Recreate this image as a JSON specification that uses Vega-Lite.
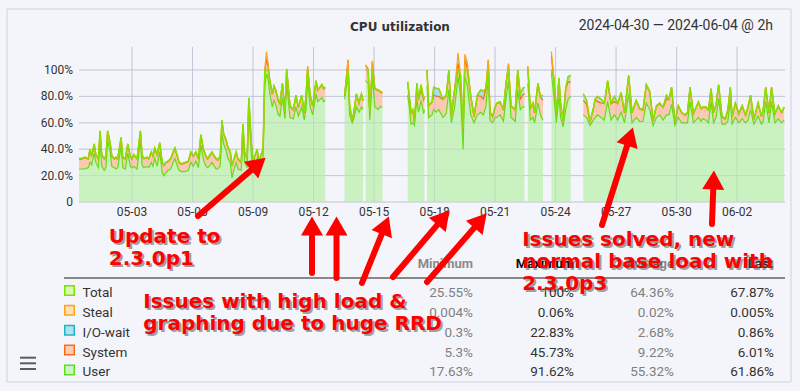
{
"$schema":"https://vega.github.io/schema/vega-lite/v6.json",
"width":800,"height":391,
"autosize":{"type":"fit","contains":"padding"},
"padding":0,
"background":"#f4f5fa",
"config":{"view":{"stroke":null},"font":"Roboto"},
"datasets":{
"cpu":[
{"t":"2024-04-30T09:00","u":25,"s":7.5,"w":0.5,"tot":33,"g":1},
{"t":"2024-04-30T12:00","u":25,"s":7.5,"w":0.5,"tot":33,"g":1},
{"t":"2024-04-30T16:00","u":25,"s":8.5,"w":0.5,"tot":34,"g":1},
{"t":"2024-04-30T20:00","u":26,"s":6.5,"w":0.5,"tot":33,"g":1},
{"t":"2024-04-30T22:00","u":30,"s":9.5,"w":0.5,"tot":40,"g":1},
{"t":"2024-05-01T00:00","u":28,"s":6.5,"w":0.5,"tot":35,"g":1},
{"t":"2024-05-01T03:00","u":37,"s":6.5,"w":0.5,"tot":44,"g":1},
{"t":"2024-05-01T05:00","u":30,"s":5.5,"w":0.5,"tot":36,"g":1},
{"t":"2024-05-01T08:00","u":26,"s":6.5,"w":0.5,"tot":33,"g":1},
{"t":"2024-05-01T10:00","u":46,"s":7.5,"w":0.5,"tot":54,"g":1},
{"t":"2024-05-01T12:00","u":27,"s":8.5,"w":0.5,"tot":36,"g":1},
{"t":"2024-05-01T15:00","u":24,"s":8.5,"w":0.5,"tot":33,"g":1},
{"t":"2024-05-01T17:00","u":26,"s":8.5,"w":0.5,"tot":35,"g":1},
{"t":"2024-05-01T19:00","u":47,"s":6.5,"w":0.5,"tot":54,"g":1},
{"t":"2024-05-01T22:00","u":38,"s":6.5,"w":0.5,"tot":45,"g":1},
{"t":"2024-05-02T00:00","u":27,"s":7.5,"w":0.5,"tot":35,"g":1},
{"t":"2024-05-02T03:00","u":26,"s":6.5,"w":0.5,"tot":33,"g":1},
{"t":"2024-05-02T05:00","u":25,"s":8.5,"w":0.5,"tot":34,"g":1},
{"t":"2024-05-02T07:00","u":26,"s":6.5,"w":0.5,"tot":33,"g":1},
{"t":"2024-05-02T11:00","u":42,"s":6.5,"w":0.5,"tot":49,"g":1},
{"t":"2024-05-02T13:00","u":26,"s":7.5,"w":0.5,"tot":34,"g":1},
{"t":"2024-05-02T16:00","u":25,"s":7.5,"w":0.5,"tot":33,"g":1},
{"t":"2024-05-02T19:00","u":37,"s":6.5,"w":0.5,"tot":44,"g":1},
{"t":"2024-05-02T22:00","u":27,"s":7.5,"w":0.5,"tot":35,"g":1},
{"t":"2024-05-03T00:00","u":26,"s":6.5,"w":0.5,"tot":33,"g":1},
{"t":"2024-05-03T02:00","u":27,"s":8.5,"w":0.5,"tot":36,"g":1},
{"t":"2024-05-03T06:00","u":25,"s":7.5,"w":0.5,"tot":33,"g":1},
{"t":"2024-05-03T10:00","u":46,"s":7.5,"w":0.5,"tot":54,"g":1},
{"t":"2024-05-03T12:00","u":28,"s":7.5,"w":0.5,"tot":36,"g":1},
{"t":"2024-05-03T14:00","u":26,"s":6.5,"w":0.5,"tot":33,"g":1},
{"t":"2024-05-03T18:00","u":27,"s":6.5,"w":0.5,"tot":34,"g":1},
{"t":"2024-05-03T20:00","u":26,"s":6.5,"w":0.5,"tot":33,"g":1},
{"t":"2024-05-03T23:00","u":30,"s":7.5,"w":0.5,"tot":38,"g":1},
{"t":"2024-05-04T01:00","u":27,"s":7.5,"w":0.5,"tot":35,"g":1},
{"t":"2024-05-04T03:00","u":33,"s":7.5,"w":0.5,"tot":41,"g":1},
{"t":"2024-05-04T06:00","u":27,"s":8.5,"w":0.5,"tot":36,"g":1},
{"t":"2024-05-04T09:00","u":38,"s":6.5,"w":0.5,"tot":45,"g":1},
{"t":"2024-05-04T12:00","u":22,"s":7.5,"w":0.5,"tot":30,"g":1},
{"t":"2024-05-04T14:00","u":20,"s":7.5,"w":0.5,"tot":28,"g":1},
{"t":"2024-05-04T16:00","u":22,"s":7.5,"w":0.5,"tot":30,"g":1},
{"t":"2024-05-04T19:00","u":24,"s":6.5,"w":0.5,"tot":31,"g":1},
{"t":"2024-05-04T22:00","u":25,"s":7.5,"w":0.5,"tot":33,"g":1},
{"t":"2024-05-05T01:00","u":30,"s":7.5,"w":0.5,"tot":38,"g":1},
{"t":"2024-05-05T03:00","u":33,"s":7.5,"w":0.5,"tot":41,"g":1},
{"t":"2024-05-05T06:00","u":27,"s":7.5,"w":0.5,"tot":35,"g":1},
{"t":"2024-05-05T08:00","u":24,"s":5.5,"w":0.5,"tot":30,"g":1},
{"t":"2024-05-05T11:00","u":23,"s":5.5,"w":0.5,"tot":29,"g":1},
{"t":"2024-05-05T15:00","u":23,"s":6.5,"w":0.5,"tot":30,"g":1},
{"t":"2024-05-05T19:00","u":24,"s":6.5,"w":0.5,"tot":31,"g":1},
{"t":"2024-05-05T22:00","u":30,"s":7.5,"w":0.5,"tot":38,"g":1},
{"t":"2024-05-06T01:00","u":27,"s":7.5,"w":0.5,"tot":35,"g":1},
{"t":"2024-05-06T04:00","u":31,"s":6.5,"w":0.5,"tot":38,"g":1},
{"t":"2024-05-06T07:00","u":26,"s":6.5,"w":0.5,"tot":33,"g":1},
{"t":"2024-05-06T10:00","u":43,"s":7.5,"w":0.5,"tot":51,"g":1},
{"t":"2024-05-06T13:00","u":32,"s":7.5,"w":0.5,"tot":40,"g":1},
{"t":"2024-05-06T16:00","u":27,"s":7.5,"w":0.5,"tot":35,"g":1},
{"t":"2024-05-06T18:00","u":26,"s":6.5,"w":0.5,"tot":33,"g":1},
{"t":"2024-05-06T21:00","u":28,"s":7.5,"w":0.5,"tot":36,"g":1},
{"t":"2024-05-06T23:00","u":30,"s":7.5,"w":0.5,"tot":38,"g":1},
{"t":"2024-05-07T02:00","u":27,"s":7.5,"w":0.5,"tot":35,"g":1},
{"t":"2024-05-07T04:00","u":25,"s":7.5,"w":0.5,"tot":33,"g":1},
{"t":"2024-05-07T06:00","u":25,"s":6.5,"w":0.5,"tot":32,"g":1},
{"t":"2024-05-07T09:00","u":27,"s":7.5,"w":0.5,"tot":35,"g":1},
{"t":"2024-05-07T11:00","u":52,"s":9.5,"w":0.5,"tot":62,"g":1},
{"t":"2024-05-07T13:00","u":44,"s":7.5,"w":0.5,"tot":52,"g":1},
{"t":"2024-05-07T16:00","u":39,"s":7.5,"w":0.5,"tot":47,"g":1},
{"t":"2024-05-07T18:00","u":33,"s":8.5,"w":0.5,"tot":42,"g":1},
{"t":"2024-05-07T21:00","u":30,"s":7.5,"w":0.5,"tot":38,"g":1},
{"t":"2024-05-07T23:00","u":18,"s":9.5,"w":0.5,"tot":28,"g":1},
{"t":"2024-05-08T01:00","u":24,"s":7.5,"w":0.5,"tot":32,"g":1},
{"t":"2024-05-08T04:00","u":30,"s":7.5,"w":0.5,"tot":38,"g":1},
{"t":"2024-05-08T06:00","u":25,"s":7.5,"w":0.5,"tot":33,"g":1},
{"t":"2024-05-08T10:00","u":24,"s":5.5,"w":0.5,"tot":30,"g":1},
{"t":"2024-05-08T12:00","u":50,"s":8.5,"w":0.5,"tot":59,"g":1},
{"t":"2024-05-08T14:00","u":30,"s":7.5,"w":0.5,"tot":38,"g":1},
{"t":"2024-05-08T17:00","u":26,"s":6.5,"w":0.5,"tot":33,"g":1},
{"t":"2024-05-08T19:00","u":68,"s":10.5,"w":0.5,"tot":79,"g":1},
{"t":"2024-05-08T22:00","u":36,"s":8.5,"w":0.5,"tot":45,"g":1},
{"t":"2024-05-09T00:00","u":24,"s":5.5,"w":0.5,"tot":30,"g":1},
{"t":"2024-05-09T02:00","u":28,"s":6.5,"w":0.5,"tot":35,"g":1},
{"t":"2024-05-09T05:00","u":33,"s":6.5,"w":0.5,"tot":40,"g":1},
{"t":"2024-05-09T07:00","u":25,"s":4.5,"w":0.5,"tot":30,"g":1},
{"t":"2024-05-09T09:00","u":29,"s":5.5,"w":0.5,"tot":35,"g":1},
{"t":"2024-05-09T12:00","u":34,"s":5.5,"w":0.5,"tot":40,"g":1},
{"t":"2024-05-09T14:00","u":88,"s":11.5,"w":0.5,"tot":100,"g":1},
{"t":"2024-05-09T16:00","u":97,"s":11,"w":6,"tot":100,"g":1},
{"t":"2024-05-09T18:00","u":93,"s":10,"w":2,"tot":100,"g":1},
{"t":"2024-05-09T20:00","u":82,"s":9.5,"w":0.5,"tot":92,"g":1},
{"t":"2024-05-09T23:00","u":72,"s":9.5,"w":0.5,"tot":82,"g":1},
{"t":"2024-05-10T01:00","u":77,"s":10.5,"w":0.5,"tot":88,"g":1},
{"t":"2024-05-10T03:00","u":74,"s":10.5,"w":0.5,"tot":85,"g":1},
{"t":"2024-05-10T06:00","u":66,"s":10.5,"w":0.5,"tot":77,"g":1},
{"t":"2024-05-10T08:00","u":65,"s":9.5,"w":0.5,"tot":75,"g":1},
{"t":"2024-05-10T11:00","u":79,"s":10.5,"w":0.5,"tot":90,"g":1},
{"t":"2024-05-10T14:00","u":63,"s":4.5,"w":0.5,"tot":68,"g":1},
{"t":"2024-05-10T16:00","u":90,"s":10.5,"w":0.5,"tot":100,"g":1},
{"t":"2024-05-10T20:00","u":64,"s":8.5,"w":0.5,"tot":73,"g":1},
{"t":"2024-05-11T00:00","u":63,"s":6.5,"w":0.5,"tot":70,"g":1},
{"t":"2024-05-11T03:00","u":72,"s":8.5,"w":0.5,"tot":81,"g":1},
{"t":"2024-05-11T06:00","u":65,"s":6.5,"w":0.5,"tot":72,"g":1},
{"t":"2024-05-11T10:00","u":72,"s":8.5,"w":0.5,"tot":81,"g":1},
{"t":"2024-05-11T13:00","u":62,"s":5.5,"w":0.5,"tot":68,"g":1},
{"t":"2024-05-11T15:00","u":70,"s":9.5,"w":0.5,"tot":80,"g":1},
{"t":"2024-05-11T17:00","u":92,"s":10.5,"w":0.5,"tot":100,"g":1},
{"t":"2024-05-11T20:00","u":72,"s":8.5,"w":0.5,"tot":81,"g":1},
{"t":"2024-05-11T23:00","u":66,"s":6.5,"w":0.5,"tot":73,"g":1},
{"t":"2024-05-12T03:00","u":82,"s":9.5,"w":0.5,"tot":92,"g":1},
{"t":"2024-05-12T05:00","u":76,"s":8.5,"w":0.5,"tot":85,"g":1},
{"t":"2024-05-12T10:00","u":79,"s":9.5,"w":0.5,"tot":89,"g":1},
{"t":"2024-05-12T12:00","u":76,"s":9.5,"w":0.5,"tot":86,"g":1},
{"t":"2024-05-12T14:00","u":77,"s":9.5,"w":0.5,"tot":87,"g":1},
{"t":"2024-05-13T13:00","u":78,"s":2.5,"w":0.5,"tot":81,"g":2},
{"t":"2024-05-13T17:00","u":95,"s":12.5,"w":0.5,"tot":100,"g":2},
{"t":"2024-05-13T19:00","u":66,"s":6.5,"w":0.5,"tot":73,"g":2},
{"t":"2024-05-13T22:00","u":60,"s":1.5,"w":0.5,"tot":62,"g":2},
{"t":"2024-05-14T00:00","u":63,"s":4.5,"w":0.5,"tot":68,"g":2},
{"t":"2024-05-14T03:00","u":72,"s":9.5,"w":0.5,"tot":82,"g":2},
{"t":"2024-05-14T06:00","u":68,"s":6.5,"w":0.5,"tot":75,"g":2},
{"t":"2024-05-14T09:00","u":72,"s":9.5,"w":0.5,"tot":82,"g":2},
{"t":"2024-05-14T11:00","u":70,"s":6.5,"w":0.5,"tot":77,"g":2},
{"t":"2024-05-14T14:00","u":92,"s":11.5,"w":0.5,"tot":100,"g":3},
{"t":"2024-05-14T17:00","u":90,"s":10.5,"w":0.5,"tot":100,"g":3},
{"t":"2024-05-14T19:00","u":62,"s":5.5,"w":0.5,"tot":68,"g":3},
{"t":"2024-05-14T22:00","u":95,"s":11.5,"w":0.5,"tot":100,"g":3},
{"t":"2024-05-15T01:00","u":72,"s":13.5,"w":0.5,"tot":86,"g":3},
{"t":"2024-05-15T05:00","u":70,"s":14.5,"w":0.5,"tot":85,"g":3},
{"t":"2024-05-15T07:00","u":72,"s":11.5,"w":0.5,"tot":84,"g":3},
{"t":"2024-05-15T10:00","u":72,"s":10.5,"w":0.5,"tot":83,"g":3},
{"t":"2024-05-16T16:00","u":81,"s":9.5,"w":0.5,"tot":91,"g":4},
{"t":"2024-05-16T18:00","u":72,"s":7.5,"w":0.5,"tot":80,"g":4},
{"t":"2024-05-16T20:00","u":59,"s":8.5,"w":0.5,"tot":68,"g":4},
{"t":"2024-05-16T22:00","u":60,"s":9.5,"w":0.5,"tot":70,"g":4},
{"t":"2024-05-17T00:00","u":58,"s":2.5,"w":0.5,"tot":61,"g":4},
{"t":"2024-05-17T03:00","u":78,"s":8,"w":4,"tot":90,"g":4},
{"t":"2024-05-17T05:00","u":68,"s":9.5,"w":0.5,"tot":78,"g":4},
{"t":"2024-05-17T08:00","u":77,"s":8,"w":4,"tot":89,"g":4},
{"t":"2024-05-17T11:00","u":67,"s":10.5,"w":0.5,"tot":78,"g":4},
{"t":"2024-05-17T12:00","u":70,"s":9.5,"w":0.5,"tot":80,"g":4},
{"t":"2024-05-17T15:00","u":88,"s":11.5,"w":0.5,"tot":100,"g":5},
{"t":"2024-05-17T17:00","u":64,"s":8.5,"w":0.5,"tot":73,"g":5},
{"t":"2024-05-17T21:00","u":66,"s":9.5,"w":0.5,"tot":76,"g":5},
{"t":"2024-05-17T23:00","u":70,"s":11,"w":6,"tot":87,"g":5},
{"t":"2024-05-18T02:00","u":68,"s":12,"w":6,"tot":86,"g":5},
{"t":"2024-05-18T05:00","u":70,"s":10,"w":6,"tot":86,"g":5},
{"t":"2024-05-18T10:00","u":64,"s":13.5,"w":0.5,"tot":78,"g":5},
{"t":"2024-05-18T14:00","u":67,"s":13.5,"w":0.5,"tot":81,"g":5},
{"t":"2024-05-18T17:00","u":85,"s":14.5,"w":0.5,"tot":100,"g":5},
{"t":"2024-05-18T20:00","u":60,"s":5.5,"w":0.5,"tot":66,"g":5},
{"t":"2024-05-19T00:00","u":72,"s":13.5,"w":0.5,"tot":86,"g":5},
{"t":"2024-05-19T04:00","u":95,"s":10,"w":8,"tot":100,"g":5},
{"t":"2024-05-19T07:00","u":80,"s":10,"w":6,"tot":96,"g":5},
{"t":"2024-05-19T10:00","u":40,"s":15.5,"w":0.5,"tot":56,"g":5},
{"t":"2024-05-19T12:00","u":95,"s":13,"w":4,"tot":100,"g":5},
{"t":"2024-05-19T15:00","u":88,"s":13,"w":5,"tot":100,"g":5},
{"t":"2024-05-19T19:00","u":66,"s":14.5,"w":0.5,"tot":81,"g":5},
{"t":"2024-05-19T23:00","u":60,"s":4.5,"w":0.5,"tot":65,"g":5},
{"t":"2024-05-20T03:00","u":66,"s":14.5,"w":0.5,"tot":81,"g":5},
{"t":"2024-05-20T07:00","u":68,"s":12,"w":5,"tot":85,"g":5},
{"t":"2024-05-20T10:00","u":66,"s":12,"w":6,"tot":84,"g":5},
{"t":"2024-05-20T13:00","u":72,"s":13.5,"w":0.5,"tot":86,"g":5},
{"t":"2024-05-20T16:00","u":94,"s":13.5,"w":0.5,"tot":100,"g":5},
{"t":"2024-05-20T18:00","u":62,"s":5.5,"w":0.5,"tot":68,"g":5},
{"t":"2024-05-20T21:00","u":60,"s":4.5,"w":0.5,"tot":65,"g":5},
{"t":"2024-05-21T00:00","u":64,"s":7.5,"w":0.5,"tot":72,"g":5},
{"t":"2024-05-21T02:00","u":64,"s":10.5,"w":0.5,"tot":75,"g":5},
{"t":"2024-05-21T06:00","u":66,"s":9.5,"w":0.5,"tot":76,"g":5},
{"t":"2024-05-21T10:00","u":61,"s":8.5,"w":0.5,"tot":70,"g":5},
{"t":"2024-05-21T13:00","u":78,"s":11.5,"w":0.5,"tot":90,"g":5},
{"t":"2024-05-21T16:00","u":92,"s":12.5,"w":0.5,"tot":100,"g":5},
{"t":"2024-05-21T19:00","u":64,"s":8.5,"w":0.5,"tot":73,"g":5},
{"t":"2024-05-22T00:00","u":61,"s":8.5,"w":0.5,"tot":70,"g":5},
{"t":"2024-05-22T03:00","u":85,"s":14.5,"w":0.5,"tot":100,"g":5},
{"t":"2024-05-22T06:00","u":70,"s":8,"w":4,"tot":82,"g":5},
{"t":"2024-05-22T09:00","u":72,"s":9,"w":5,"tot":86,"g":5},
{"t":"2024-05-22T11:00","u":72,"s":10,"w":5,"tot":87,"g":5},
{"t":"2024-05-22T15:00","u":90,"s":12.5,"w":0.5,"tot":100,"g":6},
{"t":"2024-05-22T18:00","u":62,"s":8.5,"w":0.5,"tot":71,"g":6},
{"t":"2024-05-22T21:00","u":64,"s":10.5,"w":0.5,"tot":75,"g":6},
{"t":"2024-05-22T23:00","u":60,"s":7.5,"w":0.5,"tot":68,"g":6},
{"t":"2024-05-23T03:00","u":75,"s":14.5,"w":0.5,"tot":90,"g":6},
{"t":"2024-05-23T06:00","u":66,"s":13.5,"w":0.5,"tot":80,"g":6},
{"t":"2024-05-23T09:00","u":62,"s":15,"w":4,"tot":81,"g":6},
{"t":"2024-05-23T19:00","u":98,"s":13,"w":3,"tot":100,"g":7},
{"t":"2024-05-23T22:00","u":80,"s":13,"w":1,"tot":94,"g":7},
{"t":"2024-05-24T01:00","u":60,"s":6.5,"w":0.5,"tot":67,"g":7},
{"t":"2024-05-24T04:00","u":80,"s":13.5,"w":0.5,"tot":94,"g":7},
{"t":"2024-05-24T06:00","u":64,"s":10.5,"w":0.5,"tot":75,"g":7},
{"t":"2024-05-24T09:00","u":57,"s":4.5,"w":0.5,"tot":62,"g":7},
{"t":"2024-05-24T12:00","u":70,"s":15.5,"w":0.5,"tot":86,"g":7},
{"t":"2024-05-24T15:00","u":78,"s":13,"w":4,"tot":95,"g":7},
{"t":"2024-05-24T18:00","u":80,"s":11,"w":5,"tot":96,"g":7},
{"t":"2024-05-25T09:00","u":66,"s":11,"w":5,"tot":82,"g":8},
{"t":"2024-05-25T13:00","u":64,"s":10,"w":3,"tot":77,"g":8},
{"t":"2024-05-25T17:00","u":58,"s":2.5,"w":0.5,"tot":61,"g":8},
{"t":"2024-05-25T21:00","u":62,"s":8.5,"w":0.5,"tot":71,"g":8},
{"t":"2024-05-25T23:00","u":64,"s":13.5,"w":0.5,"tot":78,"g":8},
{"t":"2024-05-26T02:00","u":66,"s":10,"w":4,"tot":80,"g":8},
{"t":"2024-05-26T06:00","u":64,"s":11,"w":3,"tot":78,"g":8},
{"t":"2024-05-26T10:00","u":62,"s":12.5,"w":0.5,"tot":75,"g":8},
{"t":"2024-05-26T14:00","u":76,"s":15.5,"w":0.5,"tot":92,"g":8},
{"t":"2024-05-26T18:00","u":62,"s":12.5,"w":0.5,"tot":75,"g":8},
{"t":"2024-05-26T22:00","u":66,"s":10,"w":4,"tot":80,"g":8},
{"t":"2024-05-27T02:00","u":62,"s":12.5,"w":0.5,"tot":75,"g":8},
{"t":"2024-05-27T06:00","u":68,"s":14.5,"w":0.5,"tot":83,"g":8},
{"t":"2024-05-27T10:00","u":60,"s":7.5,"w":0.5,"tot":68,"g":8},
{"t":"2024-05-27T15:00","u":82,"s":13.5,"w":0.5,"tot":96,"g":8},
{"t":"2024-05-27T19:00","u":60,"s":7.5,"w":0.5,"tot":68,"g":8},
{"t":"2024-05-28T00:00","u":64,"s":12.5,"w":0.5,"tot":77,"g":8},
{"t":"2024-05-28T04:00","u":61,"s":9.5,"w":0.5,"tot":71,"g":8},
{"t":"2024-05-28T08:00","u":61,"s":8.5,"w":0.5,"tot":70,"g":8},
{"t":"2024-05-28T12:00","u":75,"s":13.5,"w":0.5,"tot":89,"g":8},
{"t":"2024-05-28T16:00","u":70,"s":13.5,"w":0.5,"tot":84,"g":8},
{"t":"2024-05-28T20:00","u":58,"s":3.5,"w":0.5,"tot":62,"g":8},
{"t":"2024-05-29T00:00","u":64,"s":8.5,"w":0.5,"tot":73,"g":8},
{"t":"2024-05-29T04:00","u":66,"s":8.5,"w":0.5,"tot":75,"g":8},
{"t":"2024-05-29T08:00","u":62,"s":9.5,"w":0.5,"tot":72,"g":8},
{"t":"2024-05-29T12:00","u":66,"s":12,"w":3,"tot":81,"g":8},
{"t":"2024-05-29T15:00","u":66,"s":11.5,"w":0.5,"tot":78,"g":8},
{"t":"2024-05-29T18:00","u":74,"s":12.5,"w":0.5,"tot":87,"g":8},
{"t":"2024-05-29T22:00","u":58,"s":2.5,"w":0.5,"tot":61,"g":8},
{"t":"2024-05-30T02:00","u":64,"s":8.5,"w":0.5,"tot":73,"g":8},
{"t":"2024-05-30T06:00","u":60,"s":7.5,"w":0.5,"tot":68,"g":8},
{"t":"2024-05-30T10:00","u":60,"s":5.5,"w":0.5,"tot":66,"g":8},
{"t":"2024-05-30T13:00","u":60,"s":7.5,"w":0.5,"tot":68,"g":8},
{"t":"2024-05-30T16:00","u":76,"s":10.5,"w":0.5,"tot":87,"g":8},
{"t":"2024-05-30T20:00","u":60,"s":6.5,"w":0.5,"tot":67,"g":8},
{"t":"2024-05-31T02:00","u":64,"s":11.5,"w":0.5,"tot":76,"g":8},
{"t":"2024-05-31T05:00","u":61,"s":9.5,"w":0.5,"tot":71,"g":8},
{"t":"2024-05-31T07:00","u":63,"s":8.5,"w":0.5,"tot":72,"g":8},
{"t":"2024-05-31T11:00","u":62,"s":9.5,"w":0.5,"tot":72,"g":8},
{"t":"2024-05-31T14:00","u":60,"s":9.5,"w":0.5,"tot":70,"g":8},
{"t":"2024-05-31T17:00","u":76,"s":9.5,"w":0.5,"tot":86,"g":8},
{"t":"2024-05-31T20:00","u":60,"s":7.5,"w":0.5,"tot":68,"g":8},
{"t":"2024-05-31T23:00","u":64,"s":9.5,"w":0.5,"tot":74,"g":8},
{"t":"2024-06-01T02:00","u":78,"s":10.5,"w":0.5,"tot":89,"g":8},
{"t":"2024-06-01T06:00","u":59,"s":5.5,"w":0.5,"tot":65,"g":8},
{"t":"2024-06-01T10:00","u":59,"s":3.5,"w":0.5,"tot":63,"g":8},
{"t":"2024-06-01T13:00","u":61,"s":8.5,"w":0.5,"tot":70,"g":8},
{"t":"2024-06-01T16:00","u":77,"s":9.5,"w":0.5,"tot":87,"g":8},
{"t":"2024-06-01T18:00","u":59,"s":5.5,"w":0.5,"tot":65,"g":8},
{"t":"2024-06-01T22:00","u":64,"s":10.5,"w":0.5,"tot":75,"g":8},
{"t":"2024-06-02T02:00","u":60,"s":6.5,"w":0.5,"tot":67,"g":8},
{"t":"2024-06-02T06:00","u":63,"s":9.5,"w":0.5,"tot":73,"g":8},
{"t":"2024-06-02T10:00","u":60,"s":5.5,"w":0.5,"tot":66,"g":8},
{"t":"2024-06-02T13:00","u":62,"s":9.5,"w":0.5,"tot":72,"g":8},
{"t":"2024-06-02T16:00","u":70,"s":10.5,"w":0.5,"tot":81,"g":8},
{"t":"2024-06-02T20:00","u":59,"s":3.5,"w":0.5,"tot":63,"g":8},
{"t":"2024-06-03T01:00","u":65,"s":9.5,"w":0.5,"tot":75,"g":8},
{"t":"2024-06-03T05:00","u":59,"s":5.5,"w":0.5,"tot":65,"g":8},
{"t":"2024-06-03T07:00","u":61,"s":8.5,"w":0.5,"tot":70,"g":8},
{"t":"2024-06-03T10:00","u":76,"s":10.5,"w":0.5,"tot":87,"g":8},
{"t":"2024-06-03T14:00","u":60,"s":7.5,"w":0.5,"tot":68,"g":8},
{"t":"2024-06-03T17:00","u":76,"s":10.5,"w":0.5,"tot":87,"g":8},
{"t":"2024-06-03T21:00","u":60,"s":6.5,"w":0.5,"tot":67,"g":8},
{"t":"2024-06-04T01:00","u":63,"s":9.5,"w":0.5,"tot":73,"g":8},
{"t":"2024-06-04T05:00","u":60,"s":7.5,"w":0.5,"tot":68,"g":8},
{"t":"2024-06-04T08:00","u":62,"s":9.5,"w":0.5,"tot":72,"g":8}
],
"table":[
{"name":"Total","i":0,"min":"25.55%","max":"100%","avg":"64.36%","last":"67.87%"},
{"name":"Steal","i":1,"min":"0.004%","max":"0.06%","avg":"0.02%","last":"0.005%"},
{"name":"I/O-wait","i":2,"min":"0.3%","max":"22.83%","avg":"2.68%","last":"0.86%"},
{"name":"System","i":3,"min":"5.3%","max":"45.73%","avg":"9.22%","last":"6.01%"},
{"name":"User","i":4,"min":"17.63%","max":"91.62%","avg":"55.32%","last":"61.86%"}
],
"xticks":[
{"d":"2024-05-03T00:00"},{"d":"2024-05-06T00:00"},{"d":"2024-05-09T00:00"},{"d":"2024-05-12T00:00"},
{"d":"2024-05-15T00:00"},{"d":"2024-05-18T00:00"},{"d":"2024-05-21T00:00"},{"d":"2024-05-24T00:00"},
{"d":"2024-05-27T00:00"},{"d":"2024-05-30T00:00"},{"d":"2024-06-02T00:00"}
],
"yticks":[
{"v":0,"l":"0"},{"v":20,"l":"20.0%"},{"v":40,"l":"40.0%"},{"v":60,"l":"60.0%"},{"v":80,"l":"80.0%"},{"v":100,"l":"100%"}
],
"notes":[
{"x":"2024-05-01T20:20","y":-31.06,"txt":"Update to\n2.3.0p1"},
{"x":"2024-05-03T13:20","y":-80.3,"txt":"Issues with high load &\ngraphing due to huge RRD"},
{"x":"2024-05-22T08:15","y":-33.33,"txt":"Issues solved, new\nnormal base load with\n2.3.0p3"}
],
"arrows":[
{"x1":"2024-05-06T06:32","y1":-10.61,"x2":"2024-05-09T06:24","y2":28.79,"a":49.3},
{"x1":"2024-05-11T22:11","y1":-53.79,"x2":"2024-05-11T22:11","y2":-18.18,"a":0},
{"x1":"2024-05-13T03:20","y1":-57.58,"x2":"2024-05-13T03:20","y2":-18.18,"a":0},
{"x1":"2024-05-14T09:41","y1":-61.36,"x2":"2024-05-15T13:24","y2":-17.65,"a":21.9},
{"x1":"2024-05-15T22:34","y1":-56.82,"x2":"2024-05-18T10:39","y2":-11.82,"a":40.4},
{"x1":"2024-05-17T15:01","y1":-60.61,"x2":"2024-05-20T06:41","y2":-14.09,"a":40.6},
{"x1":"2024-05-26T07:15","y1":-17.42,"x2":"2024-05-27T16:34","y2":49.62,"a":17.6},
{"x1":"2024-05-31T18:08","y1":-16.67,"x2":"2024-05-31T20:02","y2":16.67,"a":2.1}
],
"menu":[{"y":-117.95},{"y":-122.2},{"y":-126.5}]
},
"layer":[
{
"data":{"name":"table"},
"layer":[
{"data":{"values":[{}]},"mark":{"type":"rule","color":"#1a1a1a","strokeWidth":1.2},
 "encoding":{"x":{"datum":{"year":2024,"month":4,"date":29,"hours":15,"minutes":5},"type":"temporal","scale":{"domain":[{"year":2024,"month":4,"date":26,"hours":10,"minutes":56},{"year":2024,"month":6,"date":5,"hours":2,"minutes":51}],"nice":false},"axis":null},
  "x2":{"datum":{"year":2024,"month":6,"date":4,"hours":9}},
  "y":{"datum":-0.955,"type":"quantitative","scale":{"domain":[-14.943,4.73],"reverse":true,"nice":false,"zero":false},"axis":null}}},
{"data":{"values":[{"h":"Minimum"}]},"mark":{"type":"text","align":"right","baseline":"alphabetic","fontSize":13,"fontWeight":"bold","color":"#8a8a8a"},
 "encoding":{"x":{"datum":{"year":2024,"month":5,"date":19,"hours":21,"minutes":46},"type":"temporal","scale":{"domain":[{"year":2024,"month":4,"date":26,"hours":10,"minutes":56},{"year":2024,"month":6,"date":5,"hours":2,"minutes":51}],"nice":false},"axis":null},
  "y":{"datum":-1.459,"type":"quantitative","scale":{"domain":[-14.943,4.73],"reverse":true,"nice":false,"zero":false},"axis":null},"text":{"field":"h"}}},
{"data":{"values":[{"h":"Maximum"}]},"mark":{"type":"text","align":"right","baseline":"alphabetic","fontSize":13,"fontWeight":"bold","color":"#111111"},
 "encoding":{"x":{"datum":{"year":2024,"month":5,"date":24,"hours":21,"minutes":56},"type":"temporal","scale":{"domain":[{"year":2024,"month":4,"date":26,"hours":10,"minutes":56},{"year":2024,"month":6,"date":5,"hours":2,"minutes":51}],"nice":false},"axis":null},
  "y":{"datum":-1.459,"type":"quantitative","scale":{"domain":[-14.943,4.73],"reverse":true,"nice":false,"zero":false},"axis":null},"text":{"field":"h"}}},
{"data":{"values":[{"h":"Average"}]},"mark":{"type":"text","align":"right","baseline":"alphabetic","fontSize":13,"fontWeight":"bold","color":"#8a8a8a"},
 "encoding":{"x":{"datum":{"year":2024,"month":5,"date":29,"hours":20,"minutes":55},"type":"temporal","scale":{"domain":[{"year":2024,"month":4,"date":26,"hours":10,"minutes":56},{"year":2024,"month":6,"date":5,"hours":2,"minutes":51}],"nice":false},"axis":null},
  "y":{"datum":-1.459,"type":"quantitative","scale":{"domain":[-14.943,4.73],"reverse":true,"nice":false,"zero":false},"axis":null},"text":{"field":"h"}}},
{"data":{"values":[{"h":"Last"}]},"mark":{"type":"text","align":"right","baseline":"alphabetic","fontSize":13,"fontWeight":"bold","color":"#333333"},
 "encoding":{"x":{"datum":{"year":2024,"month":6,"date":3,"hours":18,"minutes":43},"type":"temporal","scale":{"domain":[{"year":2024,"month":4,"date":26,"hours":10,"minutes":56},{"year":2024,"month":6,"date":5,"hours":2,"minutes":51}],"nice":false},"axis":null},
  "y":{"datum":-1.459,"type":"quantitative","scale":{"domain":[-14.943,4.73],"reverse":true,"nice":false,"zero":false},"axis":null},"text":{"field":"h"}}},
{"mark":{"type":"square","size":90,"strokeWidth":1.5,"opacity":1,"yOffset":-6.5},
 "encoding":{"x":{"datum":{"year":2024,"month":4,"date":29,"hours":21,"minutes":38},"type":"temporal","scale":{"domain":[{"year":2024,"month":4,"date":26,"hours":10,"minutes":56},{"year":2024,"month":6,"date":5,"hours":2,"minutes":51}],"nice":false},"axis":null},
  "y":{"field":"i","type":"quantitative","scale":{"domain":[-14.943,4.73],"reverse":true,"nice":false,"zero":false},"axis":null},
  "fill":{"field":"name","type":"nominal","scale":{"domain":["Total","Steal","I/O-wait","System","User"],"range":["#d6fab4","#fde0b8","#b2e1e9","#fbcdb6","#ccf5c4"]},"legend":null},
  "stroke":{"field":"name","type":"nominal","scale":{"domain":["Total","Steal","I/O-wait","System","User"],"range":["#80e000","#ffa31a","#1fb3ca","#ff6a1a","#5ee01e"]},"legend":null}}},
{"mark":{"type":"text","align":"left","baseline":"alphabetic","fontSize":13.5,"color":"#333333"},
 "encoding":{"x":{"datum":{"year":2024,"month":4,"date":30,"hours":13,"minutes":6},"type":"temporal","scale":{"domain":[{"year":2024,"month":4,"date":26,"hours":10,"minutes":56},{"year":2024,"month":6,"date":5,"hours":2,"minutes":51}],"nice":false},"axis":null},
  "y":{"field":"i","type":"quantitative","scale":{"domain":[-14.943,4.73],"reverse":true,"nice":false,"zero":false},"axis":null},"text":{"field":"name"}}},
{"mark":{"type":"text","align":"right","baseline":"alphabetic","fontSize":13.5,"color":"#7f7f7f"},
 "encoding":{"x":{"datum":{"year":2024,"month":5,"date":19,"hours":21,"minutes":46},"type":"temporal","scale":{"domain":[{"year":2024,"month":4,"date":26,"hours":10,"minutes":56},{"year":2024,"month":6,"date":5,"hours":2,"minutes":51}],"nice":false},"axis":null},
  "y":{"field":"i","type":"quantitative","scale":{"domain":[-14.943,4.73],"reverse":true,"nice":false,"zero":false},"axis":null},"text":{"field":"min"}}},
{"mark":{"type":"text","align":"right","baseline":"alphabetic","fontSize":13.5,"color":"#333333"},
 "encoding":{"x":{"datum":{"year":2024,"month":5,"date":24,"hours":21,"minutes":56},"type":"temporal","scale":{"domain":[{"year":2024,"month":4,"date":26,"hours":10,"minutes":56},{"year":2024,"month":6,"date":5,"hours":2,"minutes":51}],"nice":false},"axis":null},
  "y":{"field":"i","type":"quantitative","scale":{"domain":[-14.943,4.73],"reverse":true,"nice":false,"zero":false},"axis":null},"text":{"field":"max"}}},
{"mark":{"type":"text","align":"right","baseline":"alphabetic","fontSize":13.5,"color":"#7f7f7f"},
 "encoding":{"x":{"datum":{"year":2024,"month":5,"date":29,"hours":20,"minutes":55},"type":"temporal","scale":{"domain":[{"year":2024,"month":4,"date":26,"hours":10,"minutes":56},{"year":2024,"month":6,"date":5,"hours":2,"minutes":51}],"nice":false},"axis":null},
  "y":{"field":"i","type":"quantitative","scale":{"domain":[-14.943,4.73],"reverse":true,"nice":false,"zero":false},"axis":null},"text":{"field":"avg"}}},
{"mark":{"type":"text","align":"right","baseline":"alphabetic","fontSize":13.5,"color":"#333333"},
 "encoding":{"x":{"datum":{"year":2024,"month":6,"date":3,"hours":19,"minutes":55},"type":"temporal","scale":{"domain":[{"year":2024,"month":4,"date":26,"hours":10,"minutes":56},{"year":2024,"month":6,"date":5,"hours":2,"minutes":51}],"nice":false},"axis":null},
  "y":{"field":"i","type":"quantitative","scale":{"domain":[-14.943,4.73],"reverse":true,"nice":false,"zero":false},"axis":null},"text":{"field":"last"}}}
]
},
{
"layer":[
{"data":{"values":[{}]},"mark":{"type":"rect","fill":"transparent","stroke":"#cfd1dd","strokeWidth":1},
 "encoding":{"x":{"datum":{"year":2024,"month":4,"date":26,"hours":19,"minutes":16},"type":"temporal","scale":{"domain":[{"year":2024,"month":4,"date":26,"hours":10,"minutes":56},{"year":2024,"month":6,"date":5,"hours":2,"minutes":51}],"nice":false},"axis":null},
  "x2":{"datum":{"year":2024,"month":6,"date":4,"hours":16,"minutes":8}},
  "y":{"datum":146.21,"type":"quantitative","scale":{"domain":[-143.18,153.03],"nice":false,"zero":false},"axis":null},
  "y2":{"datum":-136.36}}},
{"data":{"name":"yticks"},"mark":{"type":"rule","color":"#d3d5e1","strokeWidth":1},
 "encoding":{"x":{"datum":{"year":2024,"month":4,"date":30,"hours":8,"minutes":56},"type":"temporal","scale":{"domain":[{"year":2024,"month":4,"date":26,"hours":10,"minutes":56},{"year":2024,"month":6,"date":5,"hours":2,"minutes":51}],"nice":false},"axis":null},
  "x2":{"datum":{"year":2024,"month":6,"date":4,"hours":9}},
  "y":{"field":"v","type":"quantitative","scale":{"domain":[-143.18,153.03],"nice":false,"zero":false},"axis":null}}},
{"data":{"name":"xticks"},"mark":{"type":"rule","color":"#d3d5e1","strokeWidth":1},
 "encoding":{"x":{"field":"d","type":"temporal","scale":{"domain":[{"year":2024,"month":4,"date":26,"hours":10,"minutes":56},{"year":2024,"month":6,"date":5,"hours":2,"minutes":51}],"nice":false},"axis":null},
  "y":{"datum":0,"type":"quantitative","scale":{"domain":[-143.18,153.03],"nice":false,"zero":false},"axis":null},
  "y2":{"datum":117.5}}},
{"data":{"name":"xticks"},"mark":{"type":"text","fontSize":12,"color":"#333333","align":"center","baseline":"alphabetic"},
 "encoding":{"x":{"field":"d","type":"temporal","scale":{"domain":[{"year":2024,"month":4,"date":26,"hours":10,"minutes":56},{"year":2024,"month":6,"date":5,"hours":2,"minutes":51}],"nice":false},"axis":null},
  "y":{"datum":-10.61,"type":"quantitative","scale":{"domain":[-143.18,153.03],"nice":false,"zero":false},"axis":null},
  "text":{"field":"d","type":"temporal","format":"%m-%d"}}},
{"data":{"name":"yticks"},"mark":{"type":"text","fontSize":12,"color":"#333333","align":"right","baseline":"middle"},
 "encoding":{"x":{"datum":{"year":2024,"month":4,"date":30,"hours":1,"minutes":48},"type":"temporal","scale":{"domain":[{"year":2024,"month":4,"date":26,"hours":10,"minutes":56},{"year":2024,"month":6,"date":5,"hours":2,"minutes":51}],"nice":false},"axis":null},
  "y":{"field":"v","type":"quantitative","scale":{"domain":[-143.18,153.03],"nice":false,"zero":false},"axis":null},
  "text":{"field":"l"}}},
{"data":{"name":"cpu"},
 "transform":[
  {"fold":["u","s","w"],"as":["k","v"]},
  {"calculate":"indexof(['u','s','w'], datum.k)","as":"o"},
  {"stack":"v","groupby":["t"],"sort":[{"field":"o","order":"ascending"}],"as":["v0","v1"]}
 ],
 "layer":[
  {"mark":{"type":"area"},
   "encoding":{"x":{"field":"t","type":"temporal","scale":{"domain":[{"year":2024,"month":4,"date":26,"hours":10,"minutes":56},{"year":2024,"month":6,"date":5,"hours":2,"minutes":51}],"nice":false},"axis":null},
    "y":{"field":"v1","type":"quantitative","stack":null,"scale":{"domain":[-143.18,153.03],"nice":false,"zero":false},"axis":null},
    "y2":{"field":"v0"},
    "fill":{"field":"k","type":"nominal","scale":{"domain":["u","s","w"],"range":["#c9f2c0","#f9c9b1","#acdfe7"]},"legend":null},
    "detail":{"field":"g","type":"nominal"}}},
  {"mark":{"type":"line","strokeWidth":1.2},
   "encoding":{"x":{"field":"t","type":"temporal","scale":{"domain":[{"year":2024,"month":4,"date":26,"hours":10,"minutes":56},{"year":2024,"month":6,"date":5,"hours":2,"minutes":51}],"nice":false},"axis":null},
    "y":{"field":"v1","type":"quantitative","stack":null,"scale":{"domain":[-143.18,153.03],"nice":false,"zero":false},"axis":null},
    "stroke":{"field":"k","type":"nominal","scale":{"domain":["u","s","w"],"range":["#66de14","#ff6a00","#ffa31a"]},"legend":null},
    "detail":{"field":"g","type":"nominal"}}}
 ]},
{"data":{"name":"cpu"},"mark":{"type":"line","color":"#86e200","strokeWidth":1.5},
 "encoding":{"x":{"field":"t","type":"temporal","scale":{"domain":[{"year":2024,"month":4,"date":26,"hours":10,"minutes":56},{"year":2024,"month":6,"date":5,"hours":2,"minutes":51}],"nice":false},"axis":null},
  "y":{"field":"tot","type":"quantitative","scale":{"domain":[-143.18,153.03],"nice":false,"zero":false},"axis":null},
  "detail":{"field":"g","type":"nominal"}}},
{"data":{"name":"yticks"},"mark":{"type":"rule","color":"#9da3b8","strokeWidth":1,"opacity":0.25},
 "encoding":{"x":{"datum":{"year":2024,"month":4,"date":30,"hours":8,"minutes":56},"type":"temporal","scale":{"domain":[{"year":2024,"month":4,"date":26,"hours":10,"minutes":56},{"year":2024,"month":6,"date":5,"hours":2,"minutes":51}],"nice":false},"axis":null},
  "x2":{"datum":{"year":2024,"month":6,"date":4,"hours":9}},
  "y":{"field":"v","type":"quantitative","scale":{"domain":[-143.18,153.03],"nice":false,"zero":false},"axis":null}}},
{"data":{"name":"xticks"},"mark":{"type":"rule","color":"#9da3b8","strokeWidth":1,"opacity":0.25},
 "encoding":{"x":{"field":"d","type":"temporal","scale":{"domain":[{"year":2024,"month":4,"date":26,"hours":10,"minutes":56},{"year":2024,"month":6,"date":5,"hours":2,"minutes":51}],"nice":false},"axis":null},
  "y":{"datum":0,"type":"quantitative","scale":{"domain":[-143.18,153.03],"nice":false,"zero":false},"axis":null},
  "y2":{"datum":117.5}}},
{"data":{"values":[{"h":"CPU utilization"}]},"mark":{"type":"text","align":"center","baseline":"alphabetic","font":"DejaVu Sans","fontSize":12,"fontWeight":"bold","color":"#333333"},
 "encoding":{"x":{"datum":{"year":2024,"month":5,"date":16,"hours":6,"minutes":53},"type":"temporal","scale":{"domain":[{"year":2024,"month":4,"date":26,"hours":10,"minutes":56},{"year":2024,"month":6,"date":5,"hours":2,"minutes":51}],"nice":false},"axis":null},
  "y":{"datum":129.77,"type":"quantitative","scale":{"domain":[-143.18,153.03],"nice":false,"zero":false},"axis":null},"text":{"field":"h"}}},
{"data":{"values":[{"h":"2024-04-30 — 2024-06-04 @ 2h"}]},"mark":{"type":"text","align":"right","baseline":"alphabetic","fontSize":14,"color":"#333333"},
 "encoding":{"x":{"datum":{"year":2024,"month":6,"date":3,"hours":18,"minutes":43},"type":"temporal","scale":{"domain":[{"year":2024,"month":4,"date":26,"hours":10,"minutes":56},{"year":2024,"month":6,"date":5,"hours":2,"minutes":51}],"nice":false},"axis":null},
  "y":{"datum":130.3,"type":"quantitative","scale":{"domain":[-143.18,153.03],"nice":false,"zero":false},"axis":null},"text":{"field":"h"}}},
{"data":{"name":"menu"},"mark":{"type":"rule","color":"#555e66","strokeWidth":2},
 "encoding":{"x":{"datum":{"year":2024,"month":4,"date":27,"hours":10,"minutes":44},"type":"temporal","scale":{"domain":[{"year":2024,"month":4,"date":26,"hours":10,"minutes":56},{"year":2024,"month":6,"date":5,"hours":2,"minutes":51}],"nice":false},"axis":null},
  "x2":{"datum":{"year":2024,"month":4,"date":28,"hours":5,"minutes":46}},
  "y":{"field":"y","type":"quantitative","scale":{"domain":[-143.18,153.03],"nice":false,"zero":false},"axis":null}}},
{"data":{"name":"notes"},"mark":{"type":"text","align":"left","baseline":"alphabetic","font":"DejaVu Sans","fontWeight":"bold","fontSize":20,"lineHeight":22,"lineBreak":"\n","color":"#000000","opacity":0.35,"dx":2,"dy":2},
 "encoding":{"x":{"field":"x","type":"temporal","scale":{"domain":[{"year":2024,"month":4,"date":26,"hours":10,"minutes":56},{"year":2024,"month":6,"date":5,"hours":2,"minutes":51}],"nice":false},"axis":null},
  "y":{"field":"y","type":"quantitative","scale":{"domain":[-143.18,153.03],"nice":false,"zero":false},"axis":null},"text":{"field":"txt"}}},
{"data":{"name":"notes"},"mark":{"type":"text","align":"left","baseline":"alphabetic","font":"DejaVu Sans","fontWeight":"bold","fontSize":20,"lineHeight":22,"lineBreak":"\n","color":"#ff0000"},
 "encoding":{"x":{"field":"x","type":"temporal","scale":{"domain":[{"year":2024,"month":4,"date":26,"hours":10,"minutes":56},{"year":2024,"month":6,"date":5,"hours":2,"minutes":51}],"nice":false},"axis":null},
  "y":{"field":"y","type":"quantitative","scale":{"domain":[-143.18,153.03],"nice":false,"zero":false},"axis":null},"text":{"field":"txt"}}},
{"data":{"name":"arrows"},"mark":{"type":"rule","color":"#ff0000","strokeWidth":6,"strokeCap":"round"},
 "encoding":{"x":{"field":"x1","type":"temporal","scale":{"domain":[{"year":2024,"month":4,"date":26,"hours":10,"minutes":56},{"year":2024,"month":6,"date":5,"hours":2,"minutes":51}],"nice":false},"axis":null},
  "x2":{"field":"x2"},
  "y":{"field":"y1","type":"quantitative","scale":{"domain":[-143.18,153.03],"nice":false,"zero":false},"axis":null},
  "y2":{"field":"y2"}}},
{"data":{"name":"arrows"},"mark":{"type":"point","shape":"triangle-up","filled":true,"size":484,"color":"#ff0000","opacity":1},
 "encoding":{"x":{"field":"x2","type":"temporal","scale":{"domain":[{"year":2024,"month":4,"date":26,"hours":10,"minutes":56},{"year":2024,"month":6,"date":5,"hours":2,"minutes":51}],"nice":false},"axis":null},
  "y":{"field":"y2","type":"quantitative","scale":{"domain":[-143.18,153.03],"nice":false,"zero":false},"axis":null},
  "angle":{"field":"a","type":"quantitative","scale":null}}}
]
}
],
"resolve":{"scale":{"y":"independent","fill":"independent","stroke":"independent"}}
}
